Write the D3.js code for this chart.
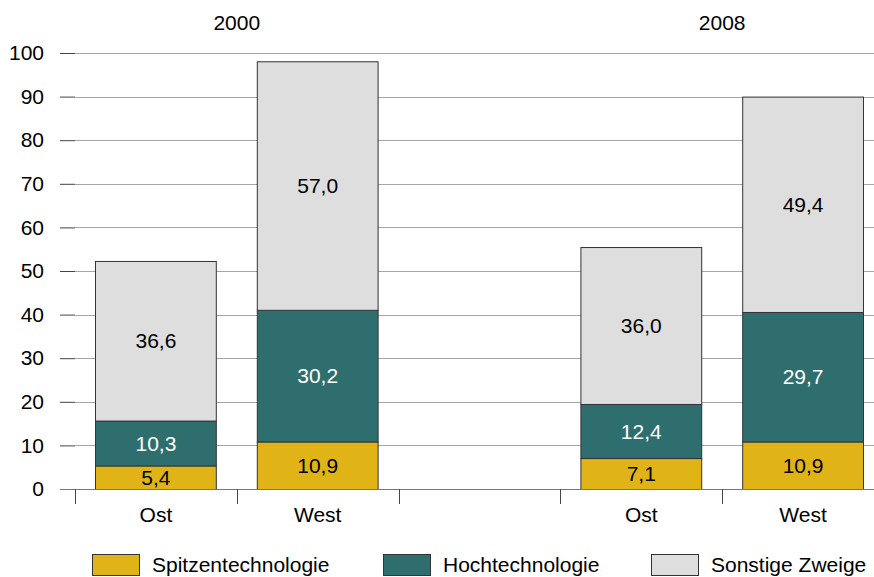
<!DOCTYPE html>
<html><head><meta charset="utf-8">
<script src="https://cdn.jsdelivr.net/npm/d3@7"></script>
<style>body{margin:0;background:#fff}svg{display:block;font-family:"Liberation Sans",Arial,sans-serif}</style>
</head><body><svg id="c" width="874" height="577"></svg>
<script>
const slots = ["Ost2000","West2000","gap","Ost2008","West2008"];
const bars = [
  {slot:"Ost2000", label:"Ost"},
  {slot:"West2000", label:"West"},
  {slot:"Ost2008", label:"Ost"},
  {slot:"West2008", label:"West"}
];
const series = ["Spitzentechnologie","Hochtechnologie","Sonstige Zweige"];
const spitzen = [5.4, 10.9, 7.1, 10.9];
const hoch = [10.3, 30.2, 12.4, 29.7];
const sonstige = [36.6, 57.0, 36.0, 49.4];
const years = [{label:"2000", slots:["Ost2000","West2000"]},{label:"2008", slots:["Ost2008","West2008"]}];
const yTicks = [0,10,20,30,40,50,60,70,80,90,100];
const colors = ["#E0B416","#2F6E6E","#DEDEDE"];
const textColors = ["#000","#fff","#000"];
const FS = 21;

const svg = d3.select("#c");
const x = d3.scaleBand().domain(slots).range([75, 884]).paddingInner(0).paddingOuter(0);
const y = d3.scaleLinear().domain([0,100]).range([489, 53]);
const barPad = 20;

// gridlines
svg.append("g").selectAll("line").data(yTicks.filter(d=>d>0)).join("line")
  .attr("x1",75).attr("x2",874).attr("y1",d=>Math.round(y(d))+0.5).attr("y2",d=>Math.round(y(d))+0.5)
  .attr("stroke","#a6a6a6").attr("stroke-width",1);
// y axis ticks
const ya = svg.append("g").attr("transform","translate(75,0)")
  .call(d3.axisLeft(y).tickValues(yTicks).tickSize(15).tickPadding(16).tickFormat(d3.format("d")));
ya.select(".domain").remove();
ya.selectAll(".tick line").attr("stroke","#444");
ya.selectAll("text").attr("font-size",FS).attr("fill","#000").attr("font-family","Liberation Sans, Arial, sans-serif");

// stacked data
const data = bars.map((b,i)=>({slot:b.slot, vals:[spitzen[i],hoch[i],sonstige[i]]}));
const g = svg.append("g");
data.forEach(d=>{
  let base = 0;
  d.vals.forEach((v,k)=>{
    const x0 = x(d.slot)+barPad, w = x.bandwidth()-2*barPad;
    g.append("rect").attr("x",x0+0.5).attr("y",y(base+v)+0.5).attr("width",w-1).attr("height",y(base)-y(base+v))
      .attr("fill",colors[k]).attr("stroke","#333").attr("stroke-width",1);
    g.append("text").attr("x",x0+w/2).attr("y",y(base+v/2)).attr("dy","0.36em")
      .attr("text-anchor","middle").attr("font-size",FS).attr("fill",textColors[k])
      .text(d3.format(".1f")(v).replace(".",","));
    base += v;
  });
});

// x axis line and ticks
svg.append("line").attr("x1",60).attr("x2",874).attr("y1",489.5).attr("y2",489.5).attr("stroke","#777").attr("stroke-width",1);
const xt = slots.map(s=>x(s)).concat([x.range()[1]]);
svg.append("g").selectAll("line").data(xt).join("line")
  .attr("x1",d=>Math.round(d)+0.5).attr("x2",d=>Math.round(d)+0.5).attr("y1",489).attr("y2",504)
  .attr("stroke","#444");
svg.append("g").selectAll("text").data(bars).join("text")
  .attr("x",d=>x(d.slot)+x.bandwidth()/2).attr("y",522).attr("text-anchor","middle")
  .attr("font-size",FS).attr("fill","#000").text(d=>d.label);

// year labels
svg.append("g").selectAll("text").data(years).join("text")
  .attr("x",d=>(x(d.slots[0])+x(d.slots[1])+x.bandwidth())/2).attr("y",30).attr("text-anchor","middle")
  .attr("font-size",FS).attr("fill","#000").text(d=>d.label);

// legend
const legX = [92, 383, 651];
const lg = svg.append("g").selectAll("g").data(series).join("g").attr("transform",(d,i)=>`translate(${legX[i]},554)`);
lg.append("rect").attr("x",0.5).attr("y",0.5).attr("width",47).attr("height",21).attr("fill",(d,i)=>colors[i]).attr("stroke","#333");
lg.append("text").attr("x",60).attr("y",17.5).attr("font-size",FS).attr("fill","#000").text(d=>d);
</script></body></html>
